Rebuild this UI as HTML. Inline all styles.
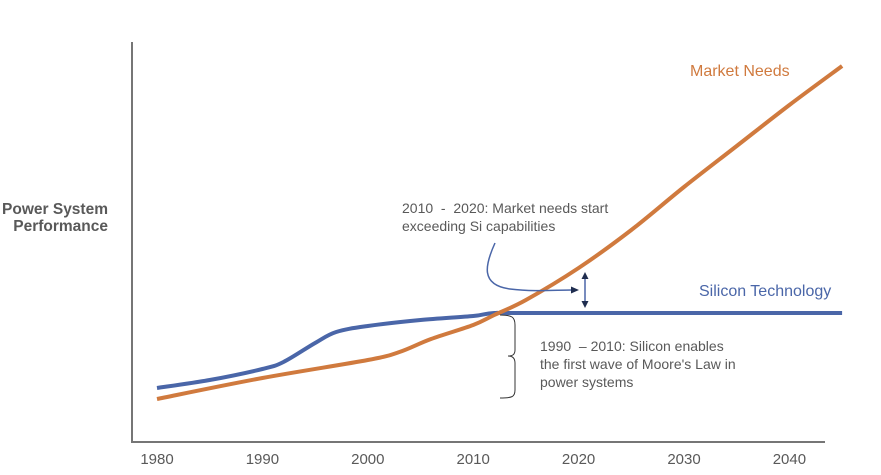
<!DOCTYPE html>
<html><head><meta charset="utf-8"><style>
body{margin:0;background:#fff;}
svg{display:block;font-family:"Liberation Sans",sans-serif;}
</style></head><body>
<svg id="c" width="881" height="475">
<line x1="132" y1="42" x2="132" y2="443" stroke="#767676" stroke-width="2"/>
<line x1="131" y1="442" x2="825" y2="442" stroke="#767676" stroke-width="2"/>
<text x="108" y="214" text-anchor="end" font-size="15.5" font-weight="bold" fill="#595959"><tspan x="108">Power System</tspan><tspan x="108" dy="17">Performance</tspan></text>
<g id="ticks"></g>
<g id="lines"></g>
<text x="690" y="76" font-size="16" fill="#D07A3E">Market Needs</text>
<text x="699" y="296" font-size="16" fill="#4A66A8">Silicon Technology</text>
<text font-size="14" fill="#595959"><tspan x="402" y="213">2010 &#160;- &#160;2020: Market needs start</tspan><tspan x="402" y="231">exceeding Si capabilities</tspan></text>
<path d="M495,243 C485,265 480,285 510,289 C535,292 555,290 572,290" fill="none" stroke="#4A66A8" stroke-width="1.5"/>
<path d="M579,290 L571,286.5 L571,293.5 Z" fill="#1F2D4F"/>
<line x1="585" y1="277" x2="585" y2="303" stroke="#4A66A8" stroke-width="1.5"/>
<path d="M585,272 L581.5,279 L588.5,279 Z M585,308 L581.5,301 L588.5,301 Z" fill="#1F2D4F"/>
<path d="M500,315 C512,315 515,317 515,325 L515,350 C515,355 512,356 508,356 C512,356 515,358 515,363 L515,390 C515,397 512,398 500,398" fill="none" stroke="#333" stroke-width="1"/>
<text font-size="14" fill="#595959"><tspan x="540" y="351">1990 &#160;– 2010: Silicon enables</tspan><tspan x="540" y="369">the first wave of Moore's Law in</tspan><tspan x="540" y="387">power systems</tspan></text>
</svg>
<script>
const tickYears=[1980,1990,2000,2010,2020,2030,2040];
const siliconYears=[1980,1985,1990,1992,1995,1997,2000,2005,2010,2012,2016,2045];
const siliconValues=[13.5,15.5,18.25,20,24.75,27.5,29,30.5,31.5,32.25,32.25,32.25];
const marketYears=[1980,1990,2000,2003,2006,2010,2012,2015,2020,2025,2030,2035,2040,2045];
const marketValues=[10.75,16,20.5,22.5,25.75,29.25,31.75,35.5,43.5,53,63.75,74,84.25,94];
function xs(y){return 157+(y-1980)*10.54;}
function ys(v){return 442-v*4;}
const NS='http://www.w3.org/2000/svg';
const tg=document.getElementById('ticks');
tickYears.forEach(y=>{const t=document.createElementNS(NS,'text');
t.setAttribute('x',xs(y));t.setAttribute('y',464);t.setAttribute('text-anchor','middle');
t.setAttribute('font-size','15');t.setAttribute('fill','#595959');t.textContent=y;


tg.appendChild(t);});
function path(xsA,vs){const p=xsA.map((x,i)=>[xs(x),ys(vs[i])]);let d='M'+p[0][0]+','+p[0][1];
for(let i=0;i<p.length-1;i++){const p0=p[Math.max(0,i-1)],p1=p[i],p2=p[i+1],p3=p[Math.min(p.length-1,i+2)];
const c1=[p1[0]+(p2[0]-p0[0])/6,p1[1]+(p2[1]-p0[1])/6],c2=[p2[0]-(p3[0]-p1[0])/6,p2[1]-(p3[1]-p1[1])/6];
d+=' C'+c1+' '+c2+' '+p2;}return d;}
const lg=document.getElementById('lines');
const s=document.createElementNS(NS,'path');s.setAttribute('d',path(siliconYears,siliconValues));
s.setAttribute('fill','none');s.setAttribute('stroke','#4A66A8');s.setAttribute('stroke-width','4');


lg.appendChild(s);
const m=document.createElementNS(NS,'path');m.setAttribute('d',path(marketYears,marketValues));
m.setAttribute('fill','none');m.setAttribute('stroke','#D07A3E');m.setAttribute('stroke-width','4');


lg.appendChild(m);
</script>
</body></html>
